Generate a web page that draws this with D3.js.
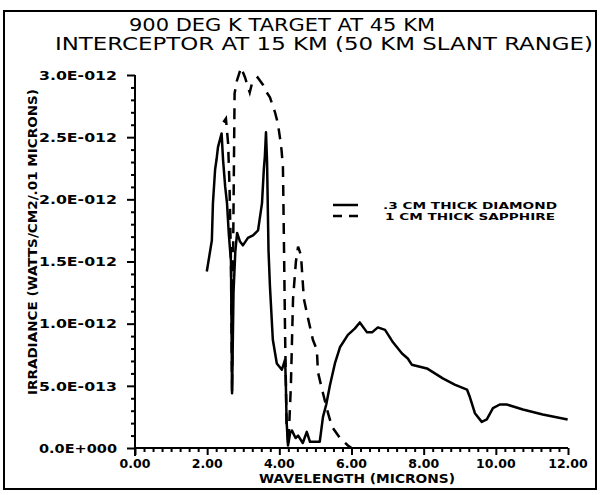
<!DOCTYPE html>
<html>
<head>
<meta charset="utf-8">
<script src="https://cdn.jsdelivr.net/npm/d3@7"></script>
<style>
  body { margin: 0; background: #fff; }
  svg { display: block; }
  text { fill: #000; }
</style>
</head>
<body>
<svg id="chart" width="600" height="495"></svg>
<script>
// values; irradiance in units of 1e-12 W/cm2/.01 micron
const diamondWavelength = [1.99, 2.13, 2.16, 2.22, 2.26, 2.30, 2.40, 2.44, 2.50, 2.55, 2.60, 2.66, 2.69, 2.73, 2.78, 2.83, 2.91, 2.99, 3.13, 3.27, 3.41, 3.52, 3.57, 3.60, 3.63, 3.66, 3.70, 3.74, 3.82, 3.93, 4.07, 4.16, 4.18, 4.20, 4.24, 4.30, 4.35, 4.45, 4.52, 4.65, 4.76, 4.85, 5.12, 5.21, 5.30, 5.40, 5.54, 5.68, 5.90, 6.09, 6.23, 6.43, 6.57, 6.73, 6.93, 7.15, 7.40, 7.56, 7.67, 8.09, 8.53, 8.86, 9.20, 9.28, 9.42, 9.61, 9.75, 9.92, 10.11, 10.30, 10.75, 11.30, 11.99]
const diamondIrradiance = [1.42, 1.67, 1.97, 2.24, 2.32, 2.42, 2.53, 2.32, 2.10, 1.97, 1.72, 1.50, 0.44, 1.25, 1.58, 1.73, 1.66, 1.63, 1.69, 1.71, 1.75, 1.97, 2.24, 2.35, 2.54, 2.30, 1.59, 1.30, 0.87, 0.68, 0.63, 0.71, 0.52, 0.22, 0.02, 0.12, 0.14, 0.08, 0.10, 0.04, 0.13, 0.05, 0.05, 0.25, 0.35, 0.50, 0.68, 0.81, 0.91, 0.96, 1.01, 0.93, 0.93, 0.97, 0.95, 0.85, 0.76, 0.72, 0.67, 0.64, 0.56, 0.51, 0.47, 0.41, 0.28, 0.21, 0.23, 0.32, 0.35, 0.35, 0.31, 0.27, 0.23]

const sapphireWavelength = [2.45, 2.52, 2.58, 2.62, 2.66, 2.69, 2.72, 2.76, 2.82, 2.94, 3.05, 3.18, 3.24, 3.40, 3.55, 3.65, 3.74, 3.88, 3.96, 4.02, 4.06, 4.10, 4.13, 4.16, 4.20, 4.25, 4.32, 4.38, 4.46, 4.52, 4.60, 4.68, 4.79, 4.93, 5.04, 5.07, 5.21, 5.35, 5.46, 5.68, 5.90, 6.00]
const sapphireIrradiance = [2.62, 2.65, 2.45, 2.10, 1.50, 0.45, 1.60, 2.85, 2.95, 3.06, 2.98, 2.86, 2.93, 2.98, 2.92, 2.86, 2.82, 2.70, 2.61, 2.49, 2.40, 2.26, 1.60, 0.90, 0.20, 0.02, 0.50, 1.20, 1.50, 1.62, 1.55, 1.20, 1.05, 0.87, 0.79, 0.61, 0.44, 0.28, 0.17, 0.08, 0.02, 0.00]

const xTickValues = [0, 2, 4, 6, 8, 10, 12]
const xTickLabels = ['0.00', '2.00', '4.00', '6.00', '8.00', '10.00', '12.00']
const yTickValues = [0, 0.5, 1.0, 1.5, 2.0, 2.5, 3.0]
const yTickLabels = ['0.0E+000', '5.0E-013', '1.0E-012', '1.5E-012', '2.0E-012', '2.5E-012', '3.0E-012']

const titleLines = ['900  DEG  K  TARGET  AT  45  KM', 'INTERCEPTOR  AT  15  KM  (50  KM  SLANT  RANGE)']
const seriesNames = ['.3 CM THICK DIAMOND', '1 CM THICK SAPPHIRE']

const svg = d3.select('#chart')
const labelFont = 'DejaVu Sans, sans-serif'

const x = d3.scaleLinear().domain([0, 12]).range([135, 568])
const y = d3.scaleLinear().domain([0, 3]).range([448, 75])

// outer frame
svg.append('rect')
  .attr('x', 4).attr('y', 11).attr('width', 592).attr('height', 478)
  .attr('fill', 'none').attr('stroke', '#000').attr('stroke-width', 2)

// title
svg.selectAll('.title')
  .data(titleLines)
  .enter().append('text')
  .attr('class', 'title')
  .attr('x', (d, i) => i ? 324 : 282)
  .attr('y', (d, i) => 31 + i * 19)
  .attr('text-anchor', 'middle')
  .attr('textLength', (d, i) => i ? 538 : 306)
  .attr('lengthAdjust', 'spacingAndGlyphs')
  .style('font-family', labelFont)
  .style('font-size', '17px')
  .text(d => d)

// axes
const xMinor = d3.range(0, 12.001, 0.25)
const yMinor = d3.range(0, 3.001, 0.1)

const gx = svg.append('g').attr('transform', `translate(0,${y(0)})`)
gx.call(d3.axisBottom(x).tickValues(xMinor).tickSize(4).tickFormat(''))
gx.selectAll('.tick').filter(d => xTickValues.some(v => Math.abs(v - d) < 1e-6))
  .select('line').attr('y2', 7)
gx.select('.domain').attr('d', `M${x(0)},0H${x(12)}`)

gx.selectAll('.xlabel')
  .data(xTickValues)
  .enter().append('text')
  .attr('class', 'xlabel')
  .attr('x', d => x(d))
  .attr('y', 20)
  .attr('text-anchor', 'middle')
  .style('font-family', labelFont)
  .style('font-weight', 'bold')
  .style('font-size', '12.5px')
  .text((d, i) => xTickLabels[i])

const gy = svg.append('g').attr('transform', `translate(${x(0)},0)`)
gy.call(d3.axisLeft(y).tickValues(yMinor).tickSize(4).tickFormat(''))
gy.selectAll('.tick').filter(d => yTickValues.some(v => Math.abs(v - d) < 1e-6))
  .select('line').attr('x2', -8)
gy.select('.domain').attr('d', `M0,${y(3)}V${y(0) + 8}`)

gy.selectAll('.ylabel')
  .data(yTickValues)
  .enter().append('text')
  .attr('class', 'ylabel')
  .attr('x', -18)
  .attr('y', d => y(d))
  .attr('dy', '0.36em')
  .attr('text-anchor', 'end')
  .attr('textLength', 78)
  .attr('lengthAdjust', 'spacingAndGlyphs')
  .style('font-family', labelFont)
  .style('font-weight', 'bold')
  .style('font-size', '13px')
  .text((d, i) => yTickLabels[i])

svg.selectAll('.domain, .tick line')
  .attr('stroke', '#000').attr('stroke-width', 2)

// axis titles
svg.append('text')
  .attr('x', 357).attr('y', 483)
  .attr('text-anchor', 'middle')
  .attr('textLength', 196)
  .attr('lengthAdjust', 'spacingAndGlyphs')
  .style('font-family', labelFont)
  .style('font-weight', 'bold')
  .style('font-size', '11.5px')
  .text('WAVELENGTH  (MICRONS)')

svg.append('text')
  .attr('transform', 'translate(37,242) rotate(-90)')
  .attr('text-anchor', 'middle')
  .attr('textLength', 306)
  .attr('lengthAdjust', 'spacingAndGlyphs')
  .style('font-family', labelFont)
  .style('font-weight', 'bold')
  .style('font-size', '12px')
  .text('IRRADIANCE  (WATTS/CM2/.01  MICRONS)')

// curves
const line = d3.line()
  .x(d => x(d[0]))
  .y(d => y(d[1]))

const diamond = d3.zip(diamondWavelength, diamondIrradiance)
const sapphire = d3.zip(sapphireWavelength, sapphireIrradiance)

svg.append('path')
  .datum(diamond)
  .attr('d', line)
  .attr('fill', 'none')
  .attr('stroke', '#000')
  .attr('stroke-width', 2.5)
  .attr('stroke-linejoin', 'round')

svg.append('path')
  .datum(sapphire)
  .attr('d', line)
  .attr('fill', 'none')
  .attr('stroke', '#000')
  .attr('stroke-width', 2.5)
  .attr('stroke-dasharray', '11,8')

// legend
const legend = svg.append('g').attr('transform', 'translate(333,205)')
legend.selectAll('line')
  .data(seriesNames)
  .enter().append('line')
  .attr('x1', 0).attr('x2', 25)
  .attr('y1', (d, i) => i * 11).attr('y2', (d, i) => i * 11)
  .attr('stroke', '#000').attr('stroke-width', 2.5)
  .attr('stroke-dasharray', (d, i) => i ? '9,7' : null)

legend.selectAll('text')
  .data(seriesNames)
  .enter().append('text')
  .attr('x', (d, i) => i ? 52 : 50)
  .attr('y', (d, i) => i * 11 + 4)
  .attr('textLength', (d, i) => i ? 170 : 174)
  .attr('lengthAdjust', 'spacingAndGlyphs')
  .style('font-family', labelFont)
  .style('font-weight', 'bold')
  .style('font-size', '9.5px')
  .text(d => d)
</script>
</body>
</html>
